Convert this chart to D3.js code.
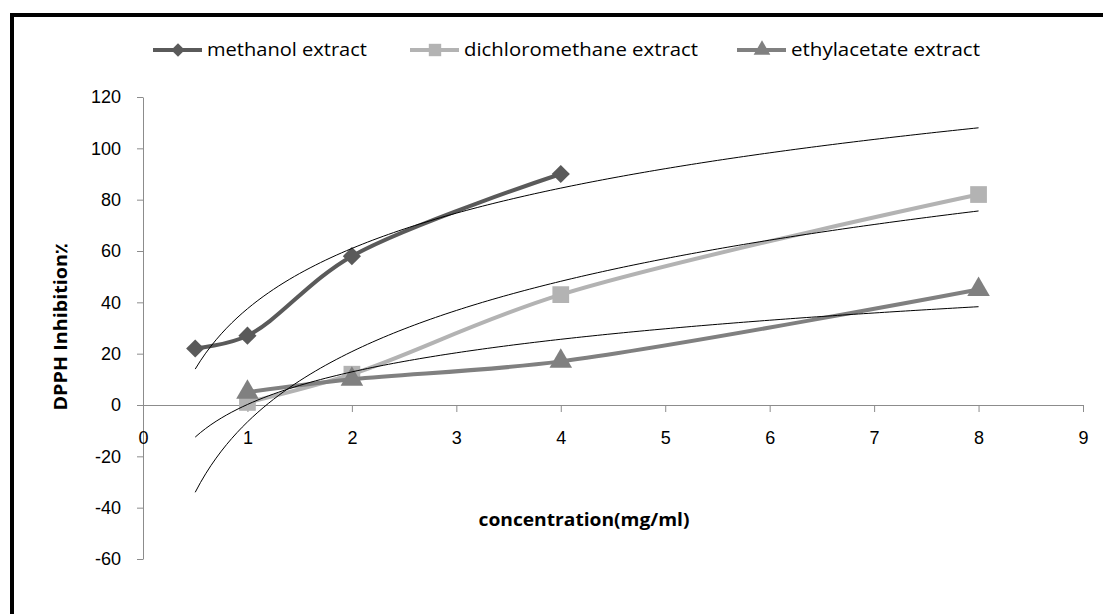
<!DOCTYPE html>
<html>
<head>
<meta charset="utf-8">
<script src="https://cdn.jsdelivr.net/npm/d3@7"></script>
<style>
  body { margin: 0; background: #fff; }
  svg { font-family: "Open Sans", "Noto Sans", sans-serif; }
</style>
</head>
<body>
<div id="chart"></div>
<script>
// data
var seriesNames = ["methanol extract", "dichloromethane extract", "ethylacetate extract"];
var methanolX = [0.5, 1, 2, 4];
var methanolY = [22, 27, 58, 90];
var dichloroX = [1, 2, 4, 8];
var dichloroY = [1, 12, 43, 82];
var ethylX = [1, 2, 4, 8];
var ethylY = [5, 10, 17, 45];
var trendRange = [0.5, 8];
var xTicks = [0, 1, 2, 3, 4, 5, 6, 7, 8, 9];
var yTicks = [-60, -40, -20, 0, 20, 40, 60, 80, 100, 120];

var W = 1103, H = 614;

var svg = d3.select("#chart")
    .append("svg")
    .attr("width", W)
    .attr("height", H);

svg.append("rect")
    .attr("width", W).attr("height", H).attr("fill", "#fff");

// thick frame around the chart
svg.append("rect")
    .attr("x", 12).attr("y", 15)
    .attr("width", W).attr("height", H)
    .attr("fill", "none")
    .attr("stroke", "#000")
    .attr("stroke-width", 4);

var x = d3.scaleLinear().domain([0, 9]).range([143, 1083]);
var y = d3.scaleLinear().domain([-60, 120]).range([559, 97]);

var fmt = function (d) { return String(d); };

// y axis
var yAxis = svg.append("g")
    .attr("transform", "translate(" + x(0) + ",0)")
    .call(d3.axisLeft(y).tickValues(yTicks).tickFormat(fmt).tickSize(6).tickPadding(16).tickSizeOuter(0));
yAxis.selectAll("text").style("font-size", "18px").attr("fill", "#000");

// x axis on y = 0
var xAxis = svg.append("g")
    .attr("transform", "translate(0," + y(0) + ")")
    .call(d3.axisBottom(x).tickValues(xTicks).tickFormat(fmt).tickSize(7).tickPadding(19).tickSizeOuter(0));
xAxis.selectAll("text").style("font-size", "18px").attr("fill", "#000");

svg.selectAll(".domain, .tick line").attr("stroke", "#8c8c8c");

// axis titles
svg.append("text")
    .attr("transform", "translate(67,327) rotate(-90)")
    .attr("text-anchor", "middle")
    .attr("font-weight", "bold")
    .attr("textLength", 167)
    .attr("lengthAdjust", "spacingAndGlyphs")
    .style("font-size", "17px")
    .text("DPPH Inhibition٪");

svg.append("text")
    .attr("x", 584).attr("y", 526)
    .attr("text-anchor", "middle")
    .attr("font-weight", "bold")
    .attr("textLength", 211)
    .attr("lengthAdjust", "spacingAndGlyphs")
    .style("font-size", "18px")
    .text("concentration(mg/ml)");

var series = [
    { name: seriesNames[0], xs: methanolX, ys: methanolY, color: "#5a5a5a", shape: d3.symbolSquare, rot: 45, size: 165, tl: 160 },
    { name: seriesNames[1], xs: dichloroX, ys: dichloroY, color: "#b3b3b3", shape: d3.symbolSquare, rot: 0, size: 280, tl: 234 },
    { name: seriesNames[2], xs: ethylX, ys: ethylY, color: "#808080", shape: d3.symbolTriangle, rot: 0, size: 220, tl: 189 }
];

var smooth = d3.line()
    .x(function (d) { return x(d[0]); })
    .y(function (d) { return y(d[1]); })
    .curve(d3.curveCatmullRom.alpha(0.5));

series.forEach(function (s) {
    var pts = s.xs.map(function (v, i) { return [v, s.ys[i]]; });
    svg.append("path")
        .datum(pts)
        .attr("fill", "none")
        .attr("stroke", s.color)
        .attr("stroke-width", 4)
        .attr("d", smooth);
    svg.selectAll(null)
        .data(pts)
        .enter()
        .append("path")
        .attr("transform", function (d) {
            return "translate(" + x(d[0]) + "," + y(d[1]) + ") rotate(" + s.rot + ")";
        })
        .attr("d", d3.symbol().type(s.shape).size(s.size))
        .attr("fill", s.color);
});

// logarithmic trendlines (least squares on ln x), as drawn by the spreadsheet
var trendLine = d3.line()
    .x(function (d) { return x(d[0]); })
    .y(function (d) { return y(d[1]); });

series.forEach(function (s) {
    var lx = s.xs.map(Math.log);
    var mx = d3.mean(lx), my = d3.mean(s.ys);
    var sxy = d3.sum(lx, function (v, i) { return (v - mx) * (s.ys[i] - my); });
    var sxx = d3.sum(lx, function (v) { return (v - mx) * (v - mx); });
    var b = sxy / sxx, a = my - b * mx;
    var pts = d3.range(trendRange[0], trendRange[1] + 0.001, 0.05).map(function (v) {
        return [v, a + b * Math.log(v)];
    });
    svg.append("path")
        .datum(pts)
        .attr("fill", "none")
        .attr("stroke", "#000")
        .attr("stroke-width", 1)
        .attr("d", trendLine);
});

// legend
var legendX = [153, 410, 737];
var legend = svg.append("g");
series.forEach(function (s, i) {
    var g = legend.append("g").attr("transform", "translate(" + legendX[i] + ",50)");
    g.append("line")
        .attr("x1", 0).attr("x2", 49)
        .attr("stroke", s.color).attr("stroke-width", 4);
    g.append("path")
        .attr("transform", "translate(25,0) rotate(" + s.rot + ")")
        .attr("d", d3.symbol().type(s.shape).size(s.size * 0.55))
        .attr("fill", s.color);
    g.append("text")
        .attr("x", 54).attr("y", 6)
        .attr("textLength", s.tl)
        .attr("lengthAdjust", "spacingAndGlyphs")
        .style("font-size", "18px")
        .text(s.name);
});
</script>
</body>
</html>
